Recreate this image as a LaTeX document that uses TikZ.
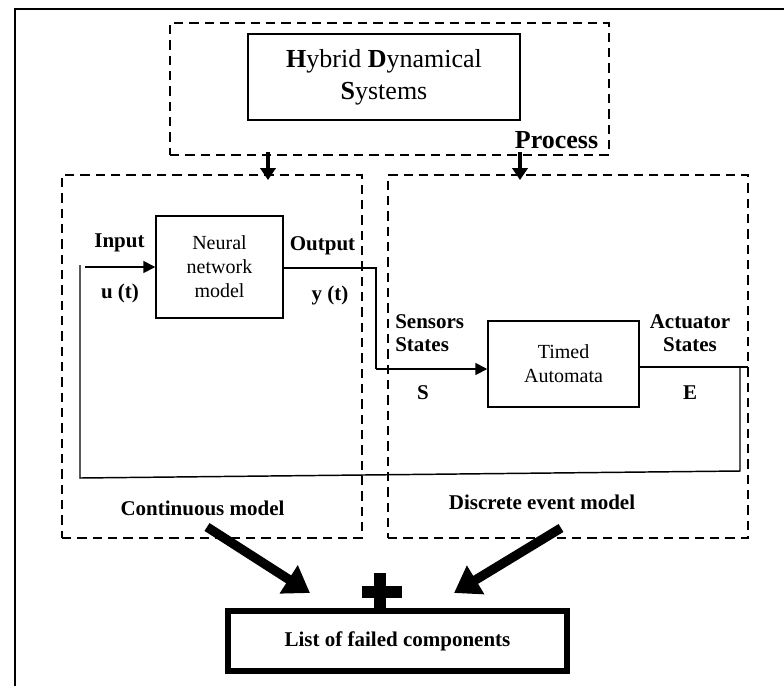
\documentclass[tikz,border=0pt]{standalone}
\usepackage{fontspec}
\setmainfont{Liberation Serif}
\usetikzlibrary{arrows.meta}
\begin{document}
\begin{tikzpicture}[x=0.75pt,y=-0.75pt,
  lbl/.style={font=\fontsize{15.75pt}{17.25pt}\selectfont\bfseries, inner sep=0pt},
  box/.style={draw, line width=1.1pt, inner sep=0pt, align=center, font=\fontsize{15pt}{18pt}\selectfont},
  dbox/.style={draw, line width=1.1pt, dash pattern=on 7pt off 4.5pt, inner sep=0pt},
  conn/.style={line width=1.1pt},
  arr/.style={line width=1.3pt, -{Triangle[length=9pt,width=9pt]}},
  downarr/.style={line width=3.6pt, -{Triangle[length=9pt,width=11.5pt]}},
  bigarr/.style={line width=7pt, -{Triangle[length=19pt,width=24pt]}},
]
\useasboundingbox (0,0) rectangle (784,686);
% outer frame
\draw[line width=1.3pt] (784,9) -- (15,9) -- (15,686);
% top process box
\node[dbox, minimum width=329.25pt, minimum height=99pt] (proc) at (389.5,89) {};
\node[box, minimum width=204pt, minimum height=64.5pt, font=\fontsize{19.5pt}{24pt}\selectfont] (hds) at (384,77)
  {\textbf{H}ybrid \textbf{D}ynamical\\\textbf{S}ystems};
\node[lbl, font=\fontsize{19.5pt}{24pt}\selectfont\bfseries] (process) at (556.5,140) {Process};
% model boxes
\node[dbox, minimum width=225pt, minimum height=272.25pt] (cont) at (212,356.5) {};
\node[dbox, minimum width=270pt, minimum height=272.25pt] (disc) at (568,356.5) {};
% down arrows
\coordinate (d1s) at (268,152); \coordinate (d1e) at (268,180);
\coordinate (d2s) at (520,152); \coordinate (d2e) at (520,180);
\draw[downarr] (d1s) -- (d1e);
\draw[downarr] (d2s) -- (d2e);
% neural network
\node[box, minimum width=95.25pt, minimum height=76.5pt] (nn) at (219.5,267) {Neural\\network\\model};
\node[lbl] (input) at (119.5,243) {Input};
\node[lbl] (ut) at (120,293) {u (t)};
\node[lbl] (output) at (322.5,246) {Output};
\node[lbl] (yt) at (330,295) {y (t)};
% timed automata
\node[box, minimum width=113.25pt, minimum height=64.5pt] (ta) at (563.5,364) {Timed\\Automata};
\node[lbl, align=left, anchor=west] (sens) at (395,333.5) {Sensors\\States};
\node[lbl, align=center] (act) at (690,333.5) {Actuator\\States};
\node[lbl] (s) at (423,393) {S};
\node[lbl] (e) at (690,393) {E};
% connectors
\coordinate (i1) at (85,267);
\draw[arr] (i1) -- (nn.west |- i1);
\coordinate (o1) at (376,268); \coordinate (o2) at (376,369);
\draw[conn] (nn.east |- o1) -- (o1) -- (o2);
\draw[arr] (o2) -- (ta.west |- o2);
\coordinate (e1) at (748,367); \coordinate (e2) at (740,367);
\coordinate (e3) at (740,471); \coordinate (f1) at (80,478); \coordinate (f2) at (80,265);
\draw[conn] (ta.east |- e1) -- (e1);
\draw[conn] (e2) -- (e3) -- (f1) -- (f2);
% model labels
\node[lbl] (cm) at (202.5,508) {Continuous model};
\node[lbl] (dem) at (542,502) {Discrete event model};
% result
\node[draw, line width=4.2pt, inner sep=0pt, minimum width=254.25pt, minimum height=45pt,
  font=\fontsize{15.75pt}{18pt}\selectfont\bfseries] (list) at (397.5,641) {List of failed components};
\fill (374,573) rectangle (386,608);
\fill (362,586) rectangle (402,598);
\coordinate (ca) at (207,527); \coordinate (ct) at (310,593);
\coordinate (da) at (561,528); \coordinate (dt) at (454,593);
\draw[bigarr] (ca) -- (ct);
\draw[bigarr] (da) -- (dt);
\end{tikzpicture}
\end{document}
